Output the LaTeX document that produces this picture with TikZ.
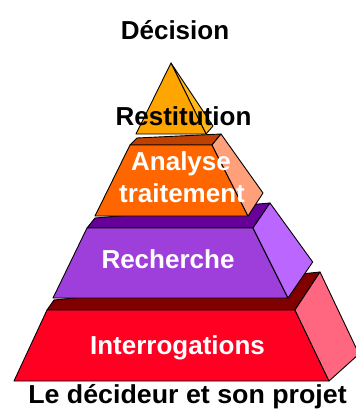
\documentclass[tikz,border=0pt]{standalone}
\usepackage{fontspec}
\setmainfont{Liberation Sans}
\begin{document}
\begin{tikzpicture}[x=1pt,y=-1pt,
  face/.style={draw=black,line width=0.9pt,line join=round},
  lbl/.style={anchor=base,inner sep=0pt,font=\fontsize{26}{32}\selectfont\bfseries},
  wlbl/.style={lbl,text=white,align=center}]
\definecolor{pyrF}{HTML}{FFA500}
\definecolor{pyrR}{HTML}{FFB81C}
\definecolor{tTwoT}{HTML}{C04000}
\definecolor{tTwoF}{HTML}{FF6600}
\definecolor{tTwoR}{HTML}{FFA07A}
\definecolor{tThrT}{HTML}{660099}
\definecolor{tThrF}{HTML}{9E3FDB}
\definecolor{tThrR}{HTML}{BB66FF}
\definecolor{tFouT}{HTML}{800000}
\definecolor{tFouF}{HTML}{FF0022}
\definecolor{tFouR}{HTML}{FF6680}
\useasboundingbox (0,0) rectangle (356,410);
\clip (0,0) rectangle (356,410);
% tier 4
\filldraw[face,fill=tFouT] (47,310) -- (54,300) -- (320,272) -- (295,310) -- cycle;
\filldraw[face,fill=tFouF] (47,310) -- (295,310) -- (329,381) -- (14,381) -- cycle;
\filldraw[face,fill=tFouR] (295,310) -- (320,272) -- (359,354) -- (329,381) -- cycle;
% tier 3
\filldraw[face,fill=tThrT] (87,228) -- (95,218) -- (270,203) -- (253,228) -- cycle;
\filldraw[face,fill=tThrF] (87,228) -- (253,228) -- (288,298) -- (53,298) -- cycle;
\filldraw[face,fill=tThrR] (253,228) -- (270,203) -- (312.7,262) -- (288,298) -- cycle;
% tier 2
\filldraw[face,fill=tTwoT] (130,145) -- (137,138) -- (221,134) -- (212,145) -- cycle;
\filldraw[face,fill=tTwoF] (130,145) -- (212,145) -- (248,216) -- (95,216) -- cycle;
\filldraw[face,fill=tTwoR] (212,145) -- (221,134) -- (263,193) -- (248,216) -- cycle;
% top pyramid
\filldraw[face,fill=pyrR] (171,63) -- (206,134) -- (213,126) -- cycle;
\filldraw[face,fill=pyrF] (171,63) -- (136,134) -- (206,134) -- cycle;
% labels
\node[lbl] (decision) at (175,39.5) {Décision};
\node[lbl] (restitution) at (183.5,125) {Restitution};
\node[wlbl] (analyse) at (181,170) {Analyse};
\node[wlbl] (traitement) at (182,202) {traitement};
\node[wlbl] (recherche) at (168,268) {Recherche};
\node[wlbl] (interrogations) at (177.5,354) {Interrogations};
\node[lbl,xscale=1.03] (decideur) at (187.5,403.5) {Le décideur et son projet};
\end{tikzpicture}
\end{document}
